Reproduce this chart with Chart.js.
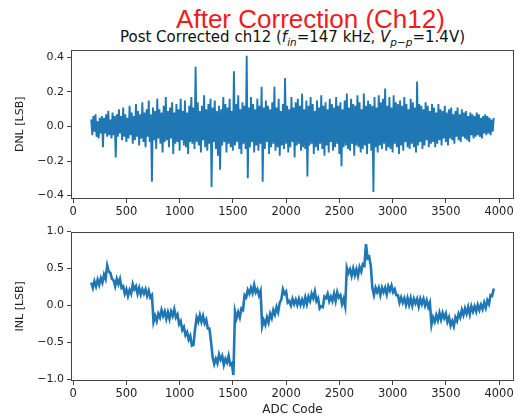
<!DOCTYPE html>
<html>
<head>
<meta charset="utf-8">
<script src="https://cdn.jsdelivr.net/npm/chart.js@4.4.1/dist/chart.umd.min.js"></script>
<style>
html,body{margin:0;padding:0;background:#fff;width:519px;height:420px;overflow:hidden;}
body{position:relative;font-family:"DejaVu Sans",sans-serif;}
#title1{position:absolute;left:51px;width:519px;top:6px;text-align:center;font-family:"Liberation Sans",Arial,sans-serif;font-size:26px;line-height:26px;color:#ee1c1c;white-space:nowrap;}
#title2{position:absolute;left:0;width:585px;top:29px;text-align:center;font-family:"DejaVu Sans",sans-serif;font-size:15px;line-height:17px;color:#111;white-space:nowrap;}
#title2 .sb{font-size:10.5px;vertical-align:-0.35em;line-height:0;font-style:italic;}
#c1{position:absolute;left:0;top:40px;}
#c2{position:absolute;left:0;top:222px;}
</style>
</head>
<body>
<div id="title1">After Correction (Ch12)</div>
<div id="title2">Post Corrected ch12 (<i>f</i><span class="sb">in</span>=147 kHz, <i>V</i><span class="sb">p−p</span>=1.4V)</div>
<canvas id="c1" width="519" height="185"></canvas>
<canvas id="c2" width="519" height="198"></canvas>
<script>
// ADC codes: first code and spacing of the sampled points
const dnlCodeStart = 170, dnlCodeStep = 10;
const inlCodeStart = 170, inlCodeStep = 15;

// DNL [LSB] values
const dnlValues = [
 0.04,-0.05,0.06,-0.03,0.07,-0.06,0.03,-0.07,0.05,-0.04,
 0.06,-0.12,0.05,-0.04,0.07,-0.06,0.09,-0.05,0.04,-0.07,
 0.08,-0.05,0.06,-0.18,0.07,-0.06,0.10,-0.04,0.06,-0.08,
 0.11,-0.06,0.07,-0.09,0.05,-0.07,0.12,-0.05,0.08,-0.10,
 0.06,-0.08,0.13,-0.06,0.09,-0.11,0.07,-0.07,0.14,-0.09,
 0.08,-0.12,0.10,-0.06,0.15,-0.09,0.07,-0.32,0.11,-0.08,
 0.09,-0.13,0.16,-0.07,0.10,-0.10,0.08,-0.15,0.12,-0.09,
 0.17,-0.08,0.09,-0.12,0.11,-0.07,0.14,-0.16,0.08,-0.10,
 0.13,-0.09,0.10,-0.14,0.16,-0.08,0.09,-0.11,0.15,-0.12,
 0.08,-0.16,0.12,-0.09,0.17,-0.10,0.11,-0.13,0.345,-0.09,
 0.14,-0.11,0.09,-0.15,0.12,-0.08,0.18,-0.12,0.10,-0.14,
 0.13,-0.10,0.16,-0.35,0.11,-0.09,0.15,-0.13,0.09,-0.17,
 0.12,-0.25,0.10,-0.11,0.17,-0.09,0.13,-0.15,0.11,-0.10,
 0.16,-0.12,0.09,-0.14,0.32,-0.11,0.13,-0.09,0.18,-0.13,
 0.10,-0.16,0.14,-0.10,0.12,-0.13,0.41,-0.30,0.11,-0.12,
 0.17,-0.09,0.13,-0.15,0.10,-0.11,0.16,-0.14,0.12,-0.10,
 0.23,-0.32,0.11,-0.13,0.15,-0.09,0.12,-0.16,0.10,-0.12,
 0.14,-0.10,0.23,-0.14,0.11,-0.12,0.16,-0.17,0.09,-0.11,
 0.13,-0.13,0.28,-0.10,0.12,-0.15,0.10,-0.12,0.17,-0.09,
 0.11,-0.18,0.14,-0.11,0.16,-0.10,0.12,-0.14,0.19,-0.12,
 0.10,-0.13,0.15,-0.29,0.12,-0.11,0.17,-0.10,0.13,-0.16,
 0.09,-0.12,0.15,-0.14,0.11,-0.10,0.18,-0.13,0.12,-0.17,
 0.14,-0.11,0.10,-0.15,0.16,-0.09,0.13,-0.14,0.11,-0.12,
 0.17,-0.10,0.12,-0.16,0.14,-0.23,0.10,-0.12,0.15,-0.11,
 0.19,-0.13,0.11,-0.14,0.16,-0.10,0.13,-0.17,0.12,-0.11,
 0.18,-0.12,0.14,-0.15,0.10,-0.13,0.19,-0.11,0.12,-0.16,
 0.15,-0.10,0.13,-0.14,0.12,-0.38,0.17,-0.12,0.11,-0.15,0.18,
 -0.11,0.14,-0.13,0.16,-0.10,0.22,-0.14,0.12,-0.12,0.17,
 -0.13,0.11,-0.15,0.18,-0.10,0.14,-0.12,0.13,-0.16,0.15,
 -0.11,0.12,-0.14,0.17,-0.09,0.13,-0.12,0.10,-0.13,0.16,
 -0.10,0.14,-0.12,0.11,-0.15,0.26,-0.11,0.13,-0.09,0.12,
 -0.13,0.10,-0.11,0.14,-0.08,0.12,-0.12,0.09,-0.10,0.13,
 -0.09,0.11,-0.12,0.08,-0.10,0.13,-0.08,0.10,-0.11,0.09,
 -0.07,0.12,-0.09,0.08,-0.11,0.10,-0.07,0.11,-0.08,0.07,
 -0.10,0.09,-0.06,0.11,-0.08,0.07,-0.09,0.10,-0.06,0.08,
 -0.07,0.09,-0.08,0.06,-0.09,0.08,-0.05,0.07,-0.07,0.06,
 -0.06,0.08,-0.05,0.07,-0.06,0.05,-0.07,0.06,-0.04,0.07,
 -0.05,0.06,-0.04,0.05,-0.05,0.04,-0.03,0.05
];

// INL [LSB] values
const inlValues = [
 0.31,0.24,0.33,0.26,0.35,0.28,0.37,0.31,0.42,0.36,
 0.54,0.46,0.44,0.36,0.34,0.26,0.36,0.29,0.36,0.24,
 0.26,0.16,0.22,0.13,0.21,0.16,0.29,0.22,0.26,0.16,
 0.24,0.15,0.22,0.16,0.22,0.13,0.20,0.11,0.14,-0.22,
 -0.14,-0.21,-0.11,-0.16,-0.06,-0.14,-0.08,-0.18,-0.09,-0.18,
 -0.08,-0.14,-0.05,-0.16,-0.12,-0.25,-0.21,-0.33,-0.29,-0.40,
 -0.36,-0.46,-0.41,-0.54,-0.53,-0.32,-0.16,-0.22,-0.13,-0.22,
 -0.14,-0.24,-0.19,-0.31,-0.31,-0.49,-0.70,-0.79,-0.72,-0.78,
 -0.66,-0.73,-0.68,-0.80,-0.72,-0.77,-0.68,-0.80,-0.78,-0.94,
 -0.08,-0.17,-0.09,-0.16,-0.04,-0.06,0.14,0.11,0.21,0.16,
 0.24,0.17,0.28,0.18,0.22,0.14,0.20,-0.28,-0.20,-0.26,
 -0.16,-0.23,-0.11,-0.17,-0.06,-0.12,-0.02,-0.09,0.04,0.08,
 0.22,0.16,0.19,0.04,0.06,0.00,0.09,0.02,0.08,0.01,
 0.09,0.01,0.08,0.01,0.11,0.02,0.12,0.06,0.16,0.10,
 0.19,0.06,0.10,-0.04,-0.01,-0.02,0.12,0.10,0.16,0.06,
 0.12,0.06,0.16,0.06,0.18,0.11,0.14,0.02,0.09,-0.01,
 0.51,0.44,0.49,0.40,0.50,0.41,0.49,0.40,0.52,0.46,
 0.56,0.54,0.83,0.64,0.66,0.54,0.24,0.14,0.24,0.18,
 0.24,0.14,0.24,0.18,0.24,0.15,0.26,0.20,0.27,0.18,
 0.22,0.14,0.14,0.04,0.11,0.04,0.10,0.01,0.10,0.01,
 0.10,0.00,0.09,0.03,0.09,-0.01,0.09,0.02,0.09,0.00,
 0.07,-0.02,0.04,-0.26,-0.16,-0.22,-0.13,-0.20,-0.10,-0.19,
 -0.10,-0.17,-0.11,-0.22,-0.16,-0.27,-0.21,-0.28,-0.16,-0.21,
 -0.11,-0.16,-0.06,-0.13,-0.04,-0.11,-0.02,-0.12,-0.01,-0.08,
 -0.01,-0.08,0.01,-0.06,0.01,-0.05,0.04,-0.03,0.07,0.02,
 0.14,0.13,0.23
];

// Tick labels
const xTicks = [0,500,1000,1500,2000,2500,3000,3500,4000];
const dnlYTicks = [-0.4,-0.2,0.0,0.2,0.4];
const inlYTicks = [-1.0,-0.5,0.0,0.5,1.0];

const lineColor = '#1f77b4';
const axisColor = '#444';
const labelColor = '#222';

const dnlCodes = dnlValues.map((_, i) => dnlCodeStart + i * dnlCodeStep);
const inlCodes = inlValues.map((_, i) => inlCodeStart + i * inlCodeStep);

const framePlugin = {
  id: 'frame',
  afterDraw(chart) {
    const a = chart.chartArea, ctx = chart.ctx;
    ctx.save();
    ctx.strokeStyle = axisColor;
    ctx.lineWidth = 1;
    ctx.strokeRect(Math.round(a.left) + 0.5, Math.round(a.top) + 0.5,
                   Math.round(a.right - a.left) - 1, Math.round(a.bottom - a.top) - 1);
    ctx.restore();
  }
};

const fmtY = v => (Math.abs(v) < 1e-9 ? '0.0' : v.toFixed(1).replace('-', '\u2212'));

function makeChart(id, codes, values, yTicks, yMin, yMax, yTitle, pad, xHeight, showXTitle, lw) {
  return new Chart(document.getElementById(id), {
    type: 'line',
    data: {
      datasets: [{
        data: codes.map((c, i) => ({ x: c, y: values[i] })),
        borderColor: lineColor,
        borderWidth: lw,
        pointRadius: 0,
        tension: 0,
        fill: false
      }]
    },
    options: {
      responsive: false,
      animation: false,
      events: [],
      layout: { padding: pad },
      plugins: { legend: { display: false }, tooltip: { enabled: false } },
      scales: {
        x: {
          type: 'linear',
          min: -20, max: 4140,
          afterBuildTicks: s => { s.ticks = xTicks.map(v => ({ value: v })); },
          afterFit: s => { s.height = xHeight; },
          ticks: {
            autoSkip: false, maxRotation: 0, padding: 2,
            color: labelColor,
            font: { family: 'DejaVu Sans', size: 11.5 },
            callback: v => String(v)
          },
          grid: { display: true, drawOnChartArea: false, drawTicks: true, tickLength: 4, color: axisColor },
          border: { display: false },
          title: {
            display: showXTitle, text: 'ADC Code', color: labelColor,
            font: { family: 'DejaVu Sans', size: 12 },
            padding: { top: 0, bottom: 3 }
          }
        },
        y: {
          type: 'linear',
          min: yMin, max: yMax,
          afterBuildTicks: s => { s.ticks = yTicks.map(v => ({ value: v })); },
          afterFit: s => { s.width = 71; },
          ticks: {
            padding: 3, color: labelColor,
            font: { family: 'DejaVu Sans', size: 11 },
            callback: v => fmtY(v)
          },
          grid: { display: true, drawOnChartArea: false, drawTicks: true, tickLength: 4, color: axisColor },
          border: { display: false },
          title: {
            display: true, text: yTitle, color: labelColor,
            font: { family: 'DejaVu Sans', size: 11 },
            padding: { top: 14, bottom: 0 }
          }
        }
      }
    },
    plugins: [framePlugin]
  });
}

makeChart('c1', dnlCodes, dnlValues, dnlYTicks, -0.42, 0.445, 'DNL [LSB]', { top: 9, right: 5, left: 0, bottom: 0 }, 26, false, 1.9);
makeChart('c2', inlCodes, inlValues, inlYTicks, -1.02, 1.0, 'INL [LSB]', { top: 8, right: 5, left: 0, bottom: 0 }, 39, true, 2.6);
</script>
</body>
</html>
